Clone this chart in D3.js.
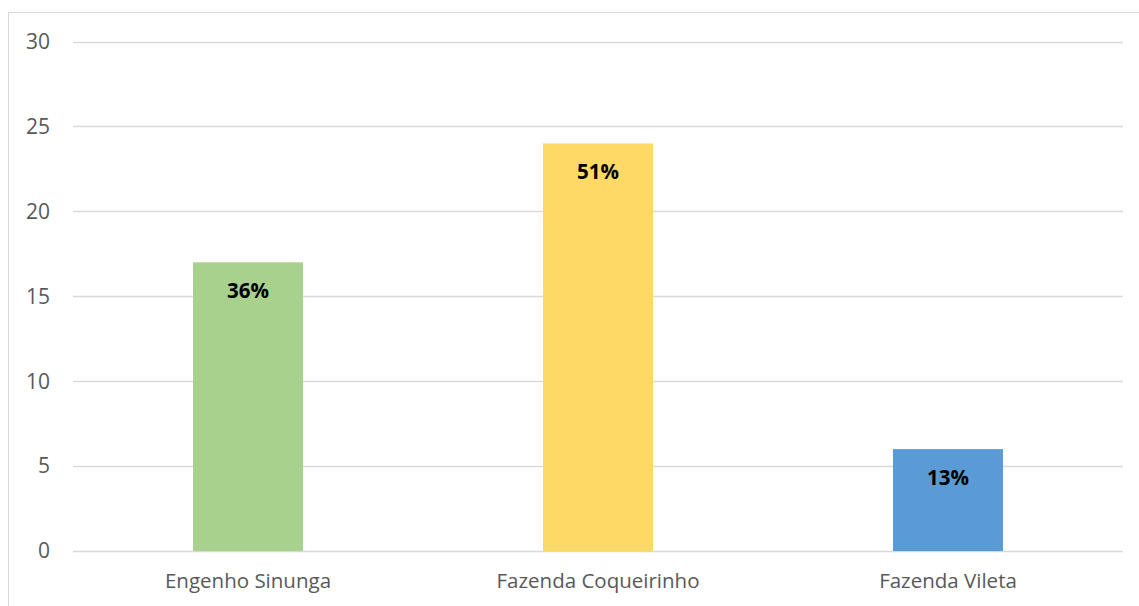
<!DOCTYPE html>
<html>
  <head>
    <meta charset="UTF-8" />
    <script src="https://d3js.org/d3.v7.min.js"></script>
    <style>
      body { margin: 0; background: #fff; }
      svg { display: block; font-family: 'Open Sans', sans-serif; }
    </style>
  </head>
  <body>
    <div id="main"></div>
    <script>
      const categories = ['Engenho Sinunga', 'Fazenda Coqueirinho', 'Fazenda Vileta'];
      const values = [17, 24, 6];
      const labels = ['36%', '51%', '13%'];
      const colors = ['#a9d18e', '#ffd966', '#5b9bd5'];
      const yTicks = [0, 5, 10, 15, 20, 25, 30];

      const width = 1139;
      const height = 606;
      const margin = { left: 73, right: 16, top: 41.5, bottom: 55 };

      const svg = d3.select('#main')
        .append('svg')
        .attr('width', width)
        .attr('height', height);

      // chart frame
      svg.append('rect')
        .attr('x', 8.5)
        .attr('y', 12.5)
        .attr('width', width)
        .attr('height', height)
        .attr('fill', 'none')
        .attr('stroke', '#d9d9d9');

      const x = d3.scaleBand()
        .domain(categories)
        .range([margin.left, width - margin.right])
        .paddingInner(0.6857)
        .paddingOuter(0.3429);

      const y = d3.scaleLinear()
        .domain([0, 30])
        .range([height - margin.bottom, margin.top]);

      // gridlines
      svg.append('g')
        .selectAll('line')
        .data(yTicks)
        .join('line')
        .attr('x1', margin.left)
        .attr('x2', width - margin.right)
        .attr('y1', d => Math.round(y(d)) + 0.5)
        .attr('y2', d => Math.round(y(d)) + 0.5)
        .attr('stroke', '#d9d9d9')
        .attr('stroke-width', 1.3);

      // y labels
      svg.append('g')
        .selectAll('text')
        .data(yTicks)
        .join('text')
        .attr('x', 50)
        .attr('y', d => y(d))
        .attr('dy', '0.35em')
        .attr('text-anchor', 'end')
        .attr('fill', '#595959')
        .style('font-size', '21px')
        .text(d => d);

      // bars
      svg.append('g')
        .selectAll('rect')
        .data(values)
        .join('rect')
        .attr('x', (d, i) => x(categories[i]))
        .attr('width', x.bandwidth())
        .attr('y', d => y(d))
        .attr('height', d => y(0) - y(d))
        .attr('fill', (d, i) => colors[i]);

      // data labels
      svg.append('g')
        .selectAll('text')
        .data(values)
        .join('text')
        .attr('x', (d, i) => x(categories[i]) + x.bandwidth() / 2)
        .attr('y', d => y(d) + 36)
        .attr('text-anchor', 'middle')
        .attr('fill', '#000')
        .style('font-size', '20.5px')
        .style('font-weight', 'bold')
        .text((d, i) => labels[i]);

      // category labels
      svg.append('g')
        .selectAll('text')
        .data(categories)
        .join('text')
        .attr('x', d => x(d) + x.bandwidth() / 2)
        .attr('y', 588)
        .attr('text-anchor', 'middle')
        .attr('fill', '#595959')
        .style('font-size', '20.5px')
        .text(d => d);
    </script>
  </body>
</html>
